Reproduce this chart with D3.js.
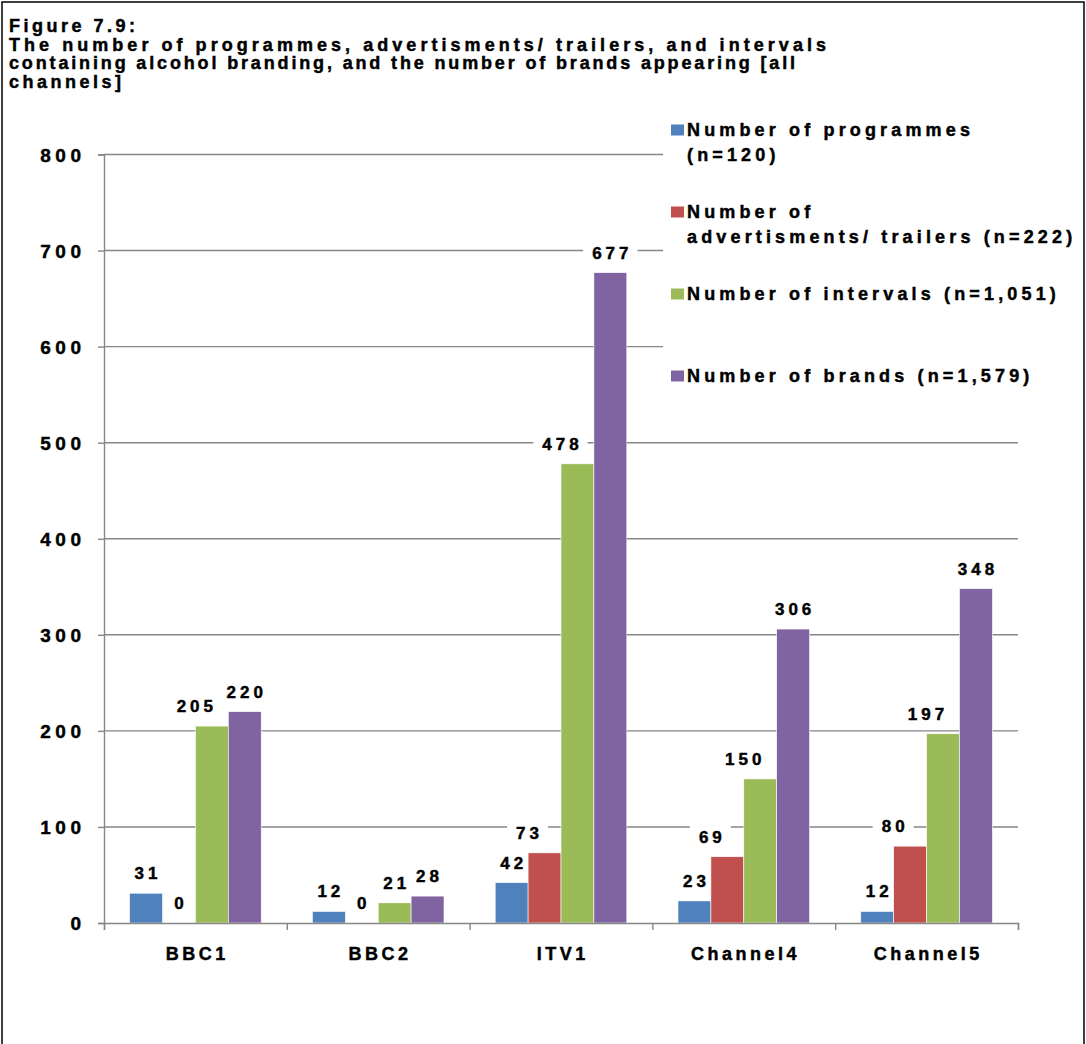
<!DOCTYPE html>
<html>
<head>
<meta charset="utf-8">
<script src="https://cdn.jsdelivr.net/npm/d3@7"></script>
<style>
  body { margin: 0; background: #fff; }
  text { font-family: "Liberation Sans", Arial, sans-serif; font-weight: bold; fill: #000;
         stroke: #000; stroke-width: 0.45px; }
</style>
</head>
<body>
<svg id="chart" width="1086" height="1044"></svg>
<script>
// ---------------- data ----------------
const categories = ["BBC1", "BBC2", "ITV1", "Channel4", "Channel5"];
const programmes = [31, 12, 42, 23, 12];
const adverts    = [0, 0, 73, 69, 80];
const intervals  = [205, 21, 478, 150, 197];
const brands     = [220, 28, 677, 306, 348];
const seriesKeys = ["programmes", "adverts", "intervals", "brands"];
const seriesValues = [programmes, adverts, intervals, brands];
const yTicks = [0, 100, 200, 300, 400, 500, 600, 700, 800];
const titleLines = [
  "Figure 7.9:",
  "The number of programmes, advertisments/ trailers, and intervals",
  "containing alcohol branding, and the number of brands appearing [all",
  "channels]"
];
const legendLines = [
  ["Number of programmes", "(n=120)"],
  ["Number of", "advertisments/ trailers (n=222)"],
  ["Number of intervals (n=1,051)"],
  ["Number of brands (n=1,579)"]
];
const colors = ["#4F81BD", "#C0504D", "#9BBB59", "#8064A2"];

// ---------------- layout ----------------
const svg = d3.select("#chart");
const plotL = 104, plotR = 1018, plotT = 154.5, plotB = 923;
const LS = 4; // letter spacing for data labels
const gridColor = "#868686";
const titleLineWidths = [null, 817, 786, null]; // fitted widths for the long wrapped lines

// frame
svg.append("rect").attr("x", 2).attr("y", 2).attr("width", 1082).attr("height", 1080)
  .attr("fill", "none").attr("stroke", "#000").attr("stroke-width", 1.5);

// title
svg.append("g").selectAll("text").data(titleLines).join("text")
  .attr("x", 9).attr("y", (d, i) => 32 + i * 18.6)
  .style("font-size", "18px")
  .style("letter-spacing", (d, i) => titleLineWidths[i] ? "0px" : "3.5px")
  .each(function (d, i) {
    if (titleLineWidths[i]) d3.select(this).attr("textLength", titleLineWidths[i]).attr("lengthAdjust", "spacing");
  })
  .text(d => d);

// scales
const x0 = d3.scaleBand().domain(categories).range([plotL, plotR]).paddingInner(0.28).paddingOuter(0.14);
const x1 = d3.scaleBand().domain(seriesKeys).range([0, x0.bandwidth()]);
const y = d3.scaleLinear().domain([0, 800]).range([plotB, plotT]);
const xEdge = d3.scaleLinear().domain([0, categories.length]).range([plotL, plotR]);

// gridlines
svg.append("g").selectAll("line").data(yTicks.filter(t => t > 0)).join("line")
  .attr("x1", plotL).attr("x2", plotR)
  .attr("y1", d => y(d)).attr("y2", d => y(d))
  .attr("stroke", gridColor).attr("stroke-width", 1.4);

// bar records
const barData = [];
categories.forEach((c, ci) => {
  seriesKeys.forEach((k, si) => {
    barData.push({ cat: c, ci, key: k, si, value: seriesValues[si][ci] });
  });
});

// label backgrounds sit between gridlines and bars
const labelBgG = svg.append("g");
const barG = svg.append("g");
const labelG = svg.append("g");

barData.forEach(d => {
  const bx = x0(d.cat) + x1(d.key) + x1.bandwidth() / 2;
  const top = y(d.value);
  const centerY = top - 20;
  const txt = String(d.value);
  let shift = 0;
  const next = d.si < 3 ? seriesValues[d.si + 1][d.ci] : null;
  if (d.value > 0 && next !== null && next > d.value &&
      (txt.length >= 3 || y(next) < centerY - 50)) shift = -17;
  const cx = bx + shift;
  const t = labelG.append("text")
    .attr("x", cx + LS / 2).attr("y", centerY + 6)
    .attr("text-anchor", "middle")
    .style("font-size", "17px").style("letter-spacing", LS + "px")
    .text(txt);
  const w = t.node().getComputedTextLength() - LS;
  labelBgG.append("rect")
    .attr("x", cx - w / 2 - 9).attr("y", centerY - 12)
    .attr("width", w + 18).attr("height", 24)
    .attr("fill", "#fff");
});

// bars
barG.selectAll("rect").data(barData).join("rect")
  .attr("x", d => x0(d.cat) + x1(d.key))
  .attr("y", d => y(d.value))
  .attr("width", x1.bandwidth())
  .attr("height", d => plotB - y(d.value))
  .attr("fill", d => colors[d.si])
  .attr("stroke", "#fff").attr("stroke-width", 0.6);

// y axis
const yAxis = svg.append("g").attr("transform", `translate(${plotL},0)`)
  .call(d3.axisLeft(y).tickValues(yTicks).tickSize(6).tickPadding(17).tickFormat(d3.format("d")));
yAxis.select(".domain").attr("stroke", gridColor).attr("stroke-width", 1.4);
yAxis.selectAll(".tick line").attr("stroke", gridColor).attr("stroke-width", 1.4);
yAxis.selectAll(".tick text")
  .attr("font-family", null).attr("font-size", null).attr("fill", null)
  .style("font-size", "19px").style("letter-spacing", "4.5px")
  .attr("dx", "4.5px").attr("dy", "0.36em");

// x axis: boundary ticks
const xEdgeAxis = svg.append("g").attr("transform", `translate(0,${plotB})`)
  .call(d3.axisBottom(xEdge).tickValues(d3.range(categories.length + 1)).tickSize(7).tickFormat(""));
xEdgeAxis.select(".domain").attr("stroke", gridColor).attr("stroke-width", 1.4);
xEdgeAxis.selectAll(".tick line").attr("stroke", gridColor).attr("stroke-width", 1.4);

// x axis labels
const xAxis = svg.append("g").attr("transform", `translate(0,${plotB})`)
  .call(d3.axisBottom(x0).tickSize(0).tickPadding(24));
xAxis.select(".domain").remove();
xAxis.selectAll(".tick text")
  .attr("font-family", null).attr("font-size", null).attr("fill", null)
  .style("font-size", "18px").style("letter-spacing", "3.5px")
  .attr("dx", "1.75px");

// legend
const leg = svg.append("g");
leg.append("rect").attr("x", 663).attr("y", 108).attr("width", 418).attr("height", 292).attr("fill", "#fff");
legendLines.forEach((lines, i) => {
  const base = 136 + i * 82;
  leg.append("rect").attr("x", 671).attr("y", base - 11.5).attr("width", 13).attr("height", 11)
    .attr("fill", colors[i]);
  lines.forEach((ln, j) => {
    leg.append("text").attr("x", 687).attr("y", base + j * 24.5)
      .style("font-size", "18px").style("letter-spacing", "4.15px")
      .text(ln);
  });
});
</script>
</body>
</html>
